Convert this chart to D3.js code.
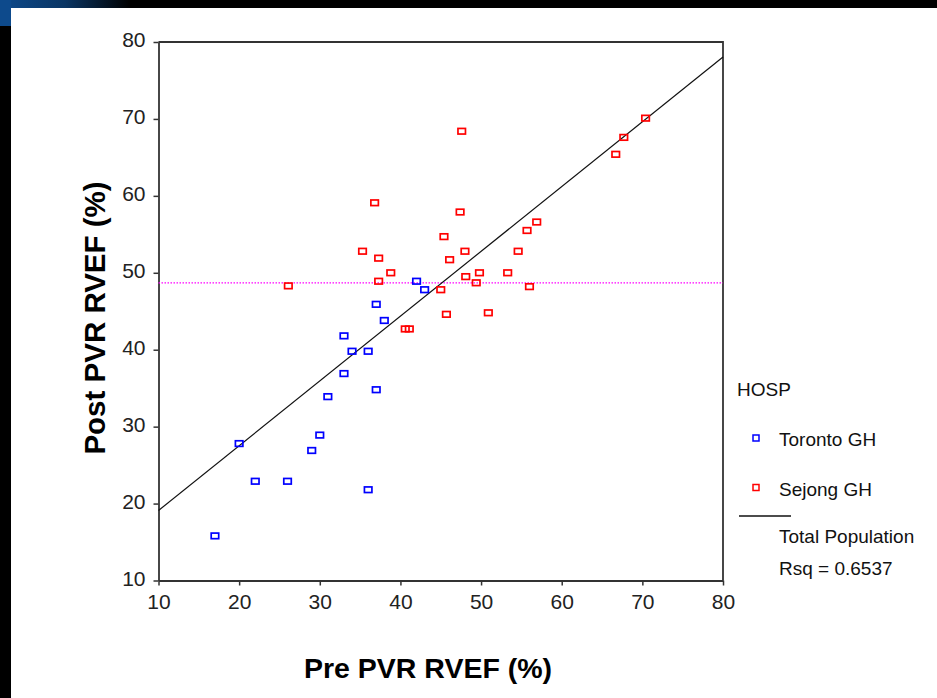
<!DOCTYPE html>
<html>
<head>
<meta charset="utf-8">
<script src="https://cdn.jsdelivr.net/npm/d3@7"></script>
<style>
	html, body { margin: 0; padding: 0; background: #000; }
	svg { display: block; }
</style>
</head>
<body>
<svg id="chart" width="937" height="698"></svg>
<script>
// Toronto GH (blue)
var torontoPre  = [17, 20, 22, 26, 29, 30, 31, 33, 33, 34, 36, 36, 37, 37, 38, 42, 43];
var torontoPost = [15.8, 27.8, 22.9, 22.9, 26.9, 28.9, 33.9, 36.9, 41.8, 39.8, 39.8, 21.8, 34.8, 45.9, 43.8, 48.9, 47.8];

// Sejong GH (red)
var sejongPre  = [47.6, 36.8, 47.4, 45.4, 35.3, 37.3, 48.0, 46.1, 54.6, 55.7, 56.9, 38.8, 37.3, 48.1,
	49.8, 49.4, 53.3, 56.0, 45.0, 45.7, 50.9, 40.6, 41.1, 70.4, 67.7, 66.7, 26.1];
var sejongPost = [68.4, 59.1, 57.9, 54.7, 52.8, 51.9, 52.8, 51.7, 52.8, 55.5, 56.6, 50.0, 48.9, 49.5,
	50.0, 48.7, 50.0, 48.2, 47.8, 44.6, 44.8, 42.7, 42.7, 70.1, 67.6, 65.4, 48.3];

// fit line (total population) and mean of post value
var fitX = [10, 80];
var fitY = [19.1, 78.05];
var meanPost = 48.7;

var axisTicks = [10, 20, 30, 40, 50, 60, 70, 80];

var legendLabels = ['Toronto GH', 'Sejong GH'];
var legendColors = ['#0000ff', '#ff0000'];

(function() {

	var svg = d3.select('#chart'),
		fontFamily = '"Liberation Sans", Arial, sans-serif',
		axisColor = '#333',
		left = 158.5,
		right = 723,
		top = 42,
		bottom = 580.5;

	// slide background: black frame with blue corner
	var defs = svg.append('defs');
	var grad = defs.append('linearGradient').attr('id', 'corner').attr('x1', 0).attr('x2', 1).attr('y1', 0).attr('y2', 0);
	grad.append('stop').attr('offset', 0).attr('stop-color', '#0d4a8c');
	grad.append('stop').attr('offset', 0.5).attr('stop-color', '#0a3563');
	grad.append('stop').attr('offset', 1).attr('stop-color', '#000');

	svg.append('rect').attr('width', 937).attr('height', 698).attr('fill', '#000');
	svg.append('rect').attr('x', 0).attr('y', 0).attr('width', 130).attr('height', 8).attr('fill', 'url(#corner)');
	svg.append('rect').attr('x', 0).attr('y', 0).attr('width', 11).attr('height', 26).attr('fill', '#0d4a8c');
	svg.append('rect').attr('x', 11).attr('y', 8).attr('width', 926).attr('height', 690).attr('fill', '#fff');

	var x = d3.scaleLinear().domain([10, 80]).range([left, right]),
		y = d3.scaleLinear().domain([10, 80]).range([bottom, top]);

	var g = svg.append('g');

	// frame (top and right)
	g.append('path')
		.attr('d', 'M' + left + ',' + top + 'H' + right + 'V' + bottom)
		.attr('fill', 'none')
		.attr('stroke', axisColor)
		.attr('stroke-width', 1.8);

	var xAxis = g.append('g')
		.attr('transform', 'translate(0,' + bottom + ')')
		.call(d3.axisBottom(x).tickValues(axisTicks).tickSize(5).tickSizeOuter(0).tickPadding(8));

	var yAxis = g.append('g')
		.attr('transform', 'translate(' + left + ',0)')
		.call(d3.axisLeft(y).tickValues(axisTicks).tickSize(5).tickSizeOuter(0).tickPadding(8));

	[xAxis, yAxis].forEach(function(a) {
		a.select('.domain').attr('stroke', axisColor).attr('stroke-width', 1.8);
		a.selectAll('.tick line').attr('stroke', axisColor).attr('stroke-width', 1.5);
		a.selectAll('.tick text')
			.attr('fill', '#222')
			.attr('font-family', fontFamily)
			.attr('font-size', 21);
	});
	yAxis.selectAll('.tick text').attr('dy', '0.22em');
	xAxis.selectAll('.tick text').attr('dy', '0.74em');

	// mean line
	g.append('line')
		.attr('x1', x(10)).attr('x2', x(80))
		.attr('y1', y(meanPost)).attr('y2', y(meanPost))
		.attr('stroke', '#ff00ff')
		.attr('stroke-width', 1.3)
		.attr('stroke-dasharray', '1.5,1.5');

	// fit line
	g.append('line')
		.attr('x1', x(fitX[0])).attr('y1', y(fitY[0]))
		.attr('x2', x(fitX[1])).attr('y2', y(fitY[1]))
		.attr('stroke', '#111')
		.attr('stroke-width', 1.2);

	var series = [
		{ pre: torontoPre, post: torontoPost, color: legendColors[0] },
		{ pre: sejongPre, post: sejongPost, color: legendColors[1] }
	];

	var mw = 7.5, mh = 5.6;

	series.forEach(function(s) {
		var pts = s.pre.map(function(v, i) { return { pre: v, post: s.post[i] }; });
		g.append('g').selectAll('rect')
			.data(pts)
			.enter()
				.append('rect')
				.attr('x', function(d) { return x(d.pre) - mw / 2; })
				.attr('y', function(d) { return y(d.post) - mh / 2; })
				.attr('width', mw)
				.attr('height', mh)
				.attr('fill', 'none')
				.attr('stroke', s.color)
				.attr('stroke-width', 1.7);
	});

	// axis titles
	svg.append('text')
		.attr('x', 428)
		.attr('y', 678)
		.attr('text-anchor', 'middle')
		.attr('font-family', fontFamily)
		.attr('font-weight', 'bold')
		.attr('font-size', 28.5)
		.attr('fill', '#000')
		.text('Pre PVR RVEF (%)');

	svg.append('text')
		.attr('transform', 'translate(105,318) rotate(-90)')
		.attr('text-anchor', 'middle')
		.attr('font-family', fontFamily)
		.attr('font-weight', 'bold')
		.attr('font-size', 29.5)
		.attr('fill', '#000')
		.text('Post PVR RVEF (%)');

	// legend
	var legend = svg.append('g')
		.attr('font-family', fontFamily)
		.attr('font-size', 19)
		.attr('fill', '#111');

	legend.append('text').attr('x', 737).attr('y', 396).text('HOSP');

	legendLabels.forEach(function(label, i) {
		var ly = 438 + i * 49.5;
		legend.append('rect')
			.attr('x', 753).attr('y', ly - 3)
			.attr('width', 6).attr('height', 6)
			.attr('fill', 'none')
			.attr('stroke', legendColors[i])
			.attr('stroke-width', 1.5);
		legend.append('text').attr('x', 779).attr('y', ly + 8).text(label);
	});

	legend.append('line')
		.attr('x1', 739).attr('x2', 791)
		.attr('y1', 516).attr('y2', 516)
		.attr('stroke', '#111')
		.attr('stroke-width', 1.5);
	legend.append('text').attr('x', 779).attr('y', 543).text('Total Population');
	legend.append('text').attr('x', 779).attr('y', 575).text('Rsq = 0.6537');

})();
</script>
</body>
</html>
